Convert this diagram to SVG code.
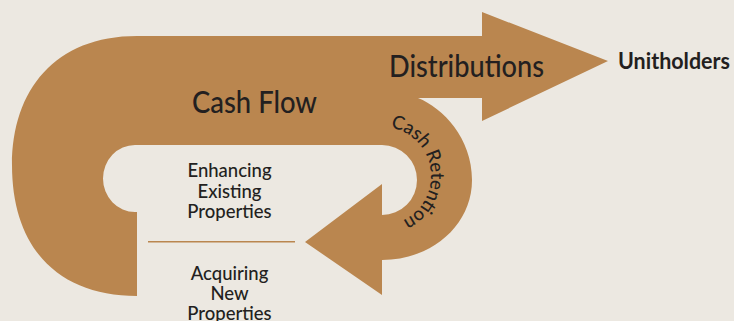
<svg xmlns="http://www.w3.org/2000/svg" width="734" height="321" viewBox="0 0 734 321">
  <style>
    .bg { fill: #ECE8E1; }
    .band { fill: #BA864F; }
    .lbl { font-family: "Lato", "Open Sans", "Liberation Sans", sans-serif; fill: #231F20; font-weight: 500; }
    .big { font-size: 30px; }
    .mid { font-size: 18.5px; text-anchor: middle; }
    .ret { font-size: 19px; }
    .unit { font-size: 22px; font-weight: bold; }
    .divider { stroke: #BA864F; stroke-width: 1.5; fill: none; }
  </style>
  <defs>
    <path id="retArc" d="M 390.5 127.7 A 49 49 0 0 1 397.1 222.6"/>
  </defs>
  <rect class="bg" x="0" y="0" width="734" height="321"/>

  <g id="connectors">
    <path id="flow-shape" class="band" d="M 137 36 L 482 36 L 482 12 L 608 61 L 482 121 L 482 98 L 418 98 C 443 108 472 138 472 180 C 472 225 432 260 382 260 L 382 295 L 305 242 L 382 184 L 382 215 A 35 35 0 0 0 382 145 L 135 145 A 32 33.5 0 0 0 135 212 L 137 212 L 137 296 C 60 296 12 250 12 165 C 12 90 55 36 137 36 Z"/>
    <line class="divider" x1="148" y1="241.7" x2="295" y2="241.7"/>
  </g>

  <g id="cash-flow">
    <text class="lbl big" x="192" y="113" textLength="125" lengthAdjust="spacingAndGlyphs">Cash Flow</text>
  </g>
  <g id="distributions">
    <text class="lbl big" x="389" y="76.5" textLength="155" lengthAdjust="spacingAndGlyphs">Distributions</text>
  </g>
  <g id="cash-retention">
    <text class="lbl ret"><textPath href="#retArc" textLength="124" lengthAdjust="spacingAndGlyphs">Cash Retention</textPath></text>
  </g>
  <g id="unitholders">
    <text class="lbl unit" x="618" y="69.3" textLength="112" lengthAdjust="spacingAndGlyphs">Unitholders</text>
  </g>
  <g id="enhancing">
    <text class="lbl mid" x="229.5" y="177.3">Enhancing</text>
    <text class="lbl mid" x="229.5" y="198">Existing</text>
    <text class="lbl mid" x="229.5" y="218">Properties</text>
  </g>
  <g id="acquiring">
    <text class="lbl mid" x="229.5" y="280">Acquiring</text>
    <text class="lbl mid" x="229.5" y="300">New</text>
    <text class="lbl mid" x="229.5" y="319.5">Properties</text>
  </g>
</svg>
